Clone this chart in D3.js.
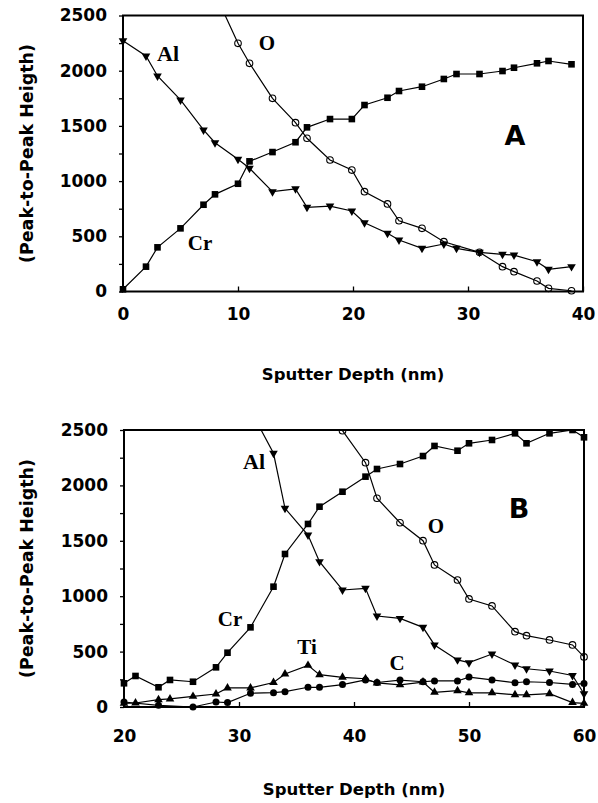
<!DOCTYPE html>
<html>
<head>
<meta charset="utf-8">
<script src="https://cdn.jsdelivr.net/npm/d3@7/dist/d3.min.js"></script>
<style>
  html, body { margin: 0; padding: 0; background: #fff; }
  svg { display: block; }
</style>
</head>
<body>
<svg id="chart" width="598" height="803"></svg>
<script>
// ---------- Panel A data ----------
const depthA = [0, 2, 3, 5, 7, 8, 10, 11, 13, 15, 16, 18, 19.9, 21, 23, 24, 26, 27.9, 29, 31, 33, 34, 36, 37, 39];
const crA = [20, 225, 400, 572, 786, 880, 976, 1179, 1263, 1352, 1487, 1562, 1562, 1689, 1755, 1816, 1855, 1925, 1970, 1970, 1997, 2027, 2067, 2088, 2058];
const alA = [2272, 2133, 1952, 1735, 1463, 1348, 1197, 1116, 904, 930, 763, 774, 729, 623, 527, 466, 391, 430, 391, 355, 337, 330, 270, 201, 225];
const oDepthA = [8, 10, 11, 13, 15, 16, 18, 19.9, 21, 23, 24, 26, 27.9, 31, 33, 34, 36, 37, 39];
const oA = [2700, 2248, 2067, 1750, 1529, 1388, 1191, 1100, 904, 793, 641, 572, 451, 355, 225, 180, 95, 29, 7];

// ---------- Panel B data ----------
const depthB = [20, 21, 23, 24, 26, 28, 29, 31, 33, 34, 36, 37, 39, 41, 42, 44, 46, 47, 49, 50, 52, 54, 55, 57, 59, 60];
const crB = [214, 280, 178, 244, 228, 358, 490, 719, 1086, 1381, 1652, 1808, 1943, 2079, 2148, 2193, 2265, 2356, 2313, 2380, 2410, 2470, 2380, 2470, 2500, 2434];
const tiB = [33, 36, 66, 73, 96, 117, 172, 172, 221, 298, 376, 292, 268, 255, 217, 200, 225, 133, 147, 128, 128, 110, 110, 120, 40, 33];
const alDepthB = [31, 33, 34, 36, 37, 39, 41, 42, 44, 46, 47, 49, 50, 52, 54, 55, 57, 59, 60];
const alB = [2680, 2290, 1793, 1552, 1312, 1056, 1071, 821, 800, 719, 560, 425, 400, 478, 379, 345, 325, 285, 120];
const oDepthB = [37, 39, 41, 42, 44, 46, 47, 49, 50, 52, 54, 55, 57, 59, 60];
const oB = [2780, 2494, 2205, 1884, 1663, 1501, 1282, 1146, 975, 912, 680, 644, 605, 560, 452];
const cDepthB = [20, 23, 26, 28, 29, 31, 33, 34, 36, 37, 39, 41, 42, 44, 46, 47, 49, 50, 52, 54, 55, 57, 59, 60];
const cB = [45, 15, 0, 45, 40, 124, 129, 138, 178, 178, 202, 244, 221, 243, 228, 235, 235, 270, 244, 219, 228, 221, 204, 211];

// ---------- Axis ticks & labels ----------
const yTicks = [0, 500, 1000, 1500, 2000, 2500];
const yMinorTicks = [250, 750, 1250, 1750, 2250];
const xTicksA = [0, 10, 20, 30, 40];
const xTicksB = [20, 30, 40, 50, 60];
const yTitle = "(Peak-to-Peak Heigth)";
const xTitle = "Sputter Depth (nm)";

const svg = d3.select("#chart");
const SANS = "'DejaVu Sans', sans-serif";
const SERIF = "'Liberation Serif', 'Times New Roman', serif";

function zip(xs, ys) { return xs.map((x, i) => [x, ys[i]]); }

function panel(cfg) {
  const x = d3.scaleLinear().domain(cfg.xDomain).range([cfg.left, cfg.right]);
  const y = d3.scaleLinear().domain([0, 2500]).range([cfg.bottom, cfg.top]);
  const g = svg.append("g");
  const clipId = "clip" + cfg.id;
  svg.append("clipPath").attr("id", clipId)
    .append("rect")
    .attr("x", cfg.left - 5).attr("y", cfg.top)
    .attr("width", cfg.right - cfg.left + 10).attr("height", cfg.bottom - cfg.top + 5);

  // y axis (outside ticks)
  const yAxis = d3.axisLeft(y).tickValues(yTicks).tickFormat(d3.format("d")).tickSize(4).tickPadding(12);
  const ya = g.append("g").attr("transform", `translate(${cfg.left},0)`).call(yAxis);
  ya.select(".domain").remove();
  ya.selectAll("line").attr("stroke", "#000").attr("stroke-width", 1.3);
  ya.selectAll("text").attr("font-family", SANS).attr("font-weight", "bold")
    .attr("font-size", 17).attr("fill", "#000");
  const ym = d3.axisLeft(y).tickValues(yMinorTicks).tickSize(4).tickFormat("");
  const yma = g.append("g").attr("transform", `translate(${cfg.left},0)`).call(ym);
  yma.select(".domain").remove();
  yma.selectAll("line").attr("stroke", "#000").attr("stroke-width", 1.3);

  // x axis (inside ticks)
  const xAxis = d3.axisBottom(x).tickValues(cfg.xTicks).tickFormat(d3.format("d"))
    .tickSizeInner(-5).tickSizeOuter(0).tickPadding(cfg.xPad);
  const xa = g.append("g").attr("transform", `translate(0,${cfg.bottom})`).call(xAxis);
  xa.select(".domain").remove();
  xa.selectAll("line").attr("stroke", "#000").attr("stroke-width", 1.3);
  xa.selectAll("text").attr("font-family", SANS).attr("font-weight", "bold")
    .attr("font-size", 17).attr("fill", "#000");

  // frame
  g.append("rect").attr("x", cfg.left).attr("y", cfg.top)
    .attr("width", cfg.right - cfg.left).attr("height", cfg.bottom - cfg.top)
    .attr("fill", "none").attr("stroke", "#000").attr("stroke-width", 2);

  // titles
  g.append("text").attr("x", (cfg.left + cfg.right) / 2).attr("y", cfg.bottom + 88)
    .attr("text-anchor", "middle").attr("font-family", SANS).attr("font-weight", "bold")
    .attr("font-size", 16.5).text(xTitle);
  const yc = (cfg.top + cfg.bottom) / 2;
  g.append("text").attr("transform", `translate(33,${yc}) rotate(-90)`)
    .attr("text-anchor", "middle").attr("font-family", SANS).attr("font-weight", "bold")
    .attr("font-size", 17.5).text(yTitle);

  const plot = g.append("g").attr("clip-path", `url(#${clipId})`);
  const line = d3.line().x(d => x(d[0])).y(d => y(d[1]));

  cfg.series.forEach(s => {
    const pts = zip(s.xs, s.ys);
    plot.append("path").datum(pts).attr("d", line)
      .attr("fill", "none").attr("stroke", "#000").attr("stroke-width", 1.2);
    const sel = plot.selectAll(null).data(pts).enter();
    if (s.marker === "square") {
      sel.append("rect").attr("x", d => x(d[0]) - 3.3).attr("y", d => y(d[1]) - 3.3)
        .attr("width", 6.6).attr("height", 6.6).attr("fill", "#000");
    } else if (s.marker === "down") {
      const sym = d3.symbol(d3.symbolTriangle).size(32);
      sel.append("path").attr("d", sym)
        .attr("transform", d => `translate(${x(d[0])},${y(d[1])}) rotate(180)`).attr("fill", "#000");
    } else if (s.marker === "up") {
      const sym = d3.symbol(d3.symbolTriangle).size(32);
      sel.append("path").attr("d", sym)
        .attr("transform", d => `translate(${x(d[0])},${y(d[1])})`).attr("fill", "#000");
    } else if (s.marker === "open") {
      sel.append("circle").attr("cx", d => x(d[0])).attr("cy", d => y(d[1])).attr("r", 3.3)
        .attr("fill", "none").attr("stroke", "#000").attr("stroke-width", 1.1);
    } else if (s.marker === "dot") {
      sel.append("circle").attr("cx", d => x(d[0])).attr("cy", d => y(d[1])).attr("r", 3.5)
        .attr("fill", "#000");
    }
  });

  cfg.labels.forEach(l => {
    g.append("text").attr("x", l.x).attr("y", l.y).attr("text-anchor", "middle")
      .attr("font-family", l.serif ? SERIF : SANS).attr("font-weight", "bold")
      .attr("font-size", l.size).text(l.t);
  });
}

panel({
  id: "A", xDomain: [0, 40], left: 123, right: 583, top: 15.5, bottom: 291.5, xTicks: xTicksA, xPad: 16,
  series: [
    { xs: depthA, ys: crA, marker: "square" },
    { xs: depthA, ys: alA, marker: "down" },
    { xs: oDepthA, ys: oA, marker: "open" }
  ],
  labels: [
    { t: "Al", x: 168, y: 61, size: 22, serif: true },
    { t: "O", x: 267, y: 50, size: 21, serif: true },
    { t: "Cr", x: 200, y: 250, size: 21, serif: true },
    { t: "A", x: 515, y: 145, size: 27, serif: false }
  ]
});

panel({
  id: "B", xDomain: [20, 60], left: 124, right: 584, top: 430, bottom: 707, xTicks: xTicksB, xPad: 23,
  series: [
    { xs: depthB, ys: crB, marker: "square" },
    { xs: depthB, ys: tiB, marker: "up" },
    { xs: alDepthB, ys: alB, marker: "down" },
    { xs: oDepthB, ys: oB, marker: "open" },
    { xs: cDepthB, ys: cB, marker: "dot" }
  ],
  labels: [
    { t: "Al", x: 254, y: 469, size: 22, serif: true },
    { t: "Cr", x: 230, y: 626, size: 21, serif: true },
    { t: "Ti", x: 307, y: 654, size: 21, serif: true },
    { t: "C", x: 397, y: 670, size: 21, serif: true },
    { t: "O", x: 436, y: 533, size: 21, serif: true },
    { t: "B", x: 519, y: 518, size: 27, serif: false }
  ]
});
</script>
</body>
</html>
